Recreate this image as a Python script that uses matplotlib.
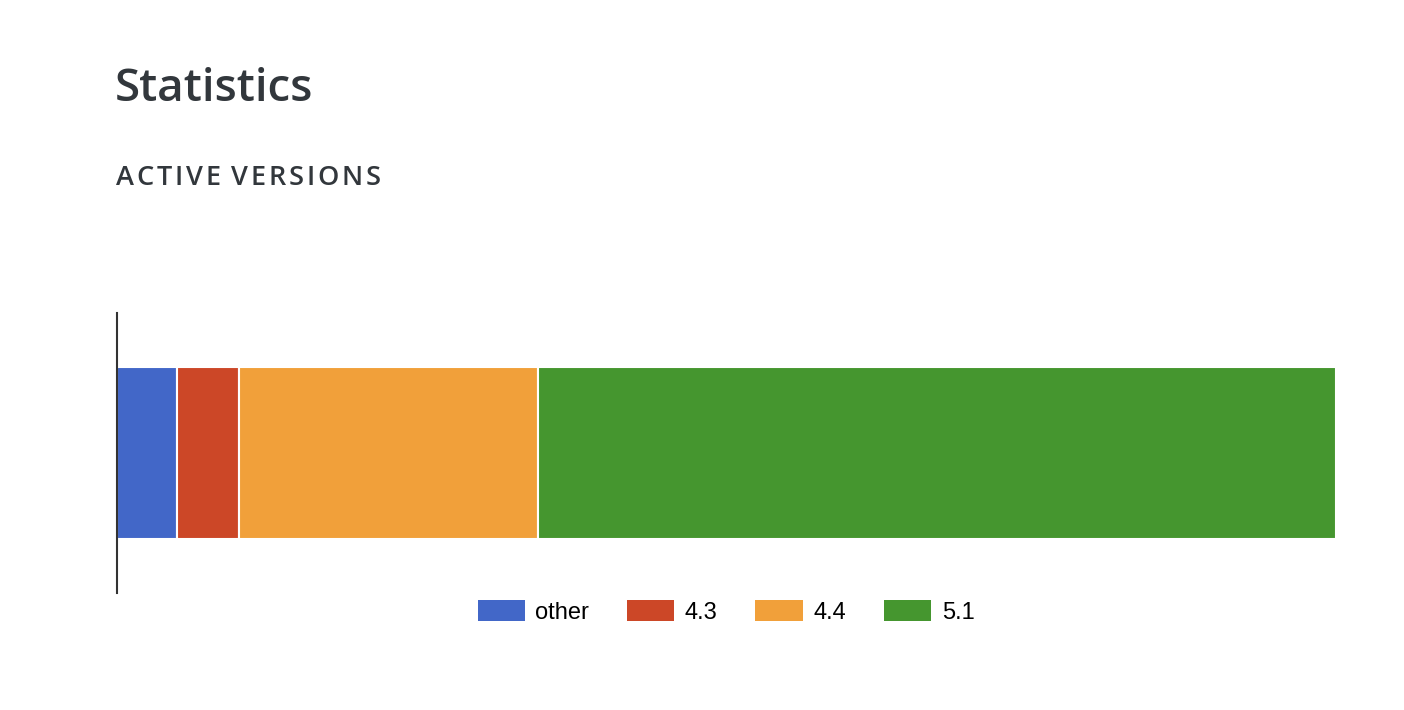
import matplotlib.pyplot as plt
from matplotlib.patches import Patch

versions = ['other', '4.3', '4.4', '5.1']
shares = [4.9, 5.1, 24.5, 65.5]
colors = ['#4267c8', '#cc4727', '#f1a03a', '#45962f']

fig = plt.figure(figsize=(14.04, 7.10), dpi=100)
fig.patch.set_facecolor('white')

W, H = 1404, 710
ax = fig.add_axes([117 / W, 1 - 593 / H, (1336 - 117) / W, (593 - 313) / H])

left = 0
for v, s, c in zip(versions, shares, colors):
    ax.barh(0, s, left=left, height=172 / 280, color=c, edgecolor='white', linewidth=1.5, label=v)
    left += s

ax.set_xlim(0, sum(shares))
ax.set_ylim(-0.5, 0.5)
ax.set_xticks([])
ax.set_yticks([])
for side in ['top', 'right', 'bottom']:
    ax.spines[side].set_visible(False)
ax.spines['left'].set_color('#333333')
ax.spines['left'].set_linewidth(1.5)

fig.text(115 / W, 1 - 101 / H, 'Statistics', fontsize=33, fontweight='semibold',
         family='Open Sans', color='#32373c', va='baseline', ha='left')

# letter-spaced subtitle, one character at a time
r = fig.canvas.get_renderer()
x = 116
for ch in 'ACTIVE VERSIONS':
    t = fig.text(x / W, 1 - 185 / H, ch, fontsize=19.5, fontweight='semibold',
                 family='Open Sans', color='#32373c', va='baseline', ha='left')
    w = t.get_window_extent(renderer=r).width if ch != ' ' else 5
    x += w + 2.8

handles = [Patch(facecolor=c, edgecolor='none') for c in colors]
fig.legend(handles, versions, loc='center', bbox_to_anchor=(726 / W, 1 - 612 / H), ncol=4,
           frameon=False, prop={'family': 'Liberation Sans', 'size': 17},
           handlelength=2.0, handleheight=1.0, handletextpad=0.45, columnspacing=1.6)

fig.savefig('out.png', dpi=100, facecolor='white')
